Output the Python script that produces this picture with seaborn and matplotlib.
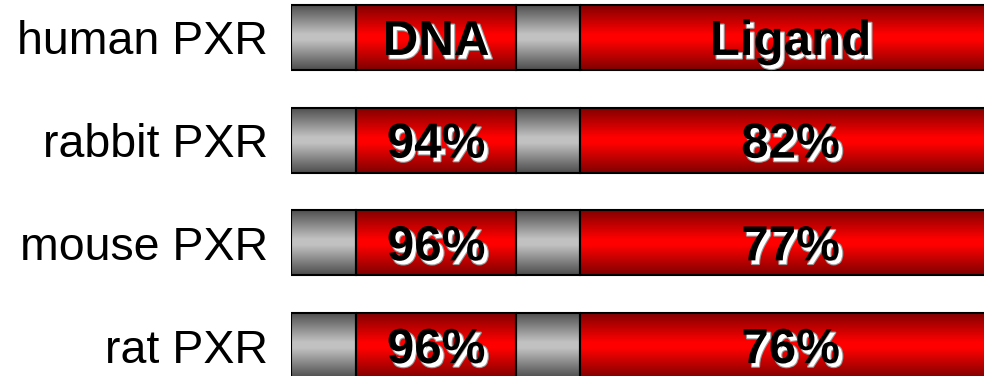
import numpy as np
import pandas as pd
import seaborn as sns
import matplotlib.pyplot as plt
import matplotlib.patheffects as pe

# species rows (top to bottom)
species = ['human PXR', 'rabbit PXR', 'mouse PXR', 'rat PXR']

# domain layout along the protein (schematic units)
domain_names = ['N-term', 'DNA', 'hinge', 'Ligand']
domain_starts = [0, 65, 225, 289]
domain_widths = [65, 160, 64, 421]
domain_kind = ['gray', 'red', 'gray', 'red']

# % identity to human PXR
dna_identity = [None, 94, 96, 96]
ligand_identity = [None, 82, 77, 76]

sns.set_style('white')
plt.rcParams['font.family'] = ['Liberation Sans', 'DejaVu Sans']

fig = plt.figure(figsize=(9.84, 3.76), dpi=100)
ax = fig.add_axes([291 / 984, 0, 1 - 291 / 984, 1])

bar_h = 0.633
for start, width, kind in zip(domain_starts, domain_widths, domain_kind):
    df = pd.DataFrame({'species': species, 'width': [width] * len(species)})
    sns.barplot(data=df, x='width', y='species', left=start, orient='h',
                color='red' if kind == 'red' else 'gray', width=bar_h,
                edgecolor='black', linewidth=1.5, ax=ax)

# vertical gradient fill (dark edges, bright middle)
t = np.clip(np.abs(np.linspace(-1, 1, 128)) * 1.1 - 0.1, 0, 1)[:, None]
grads = {
    'red': np.array([1.0, 0.0, 0.0]) * (1 - t)[..., None] + np.array([0.5, 0.0, 0.0]) * t[..., None],
    'gray': np.array([0.76, 0.76, 0.76]) * (1 - t)[..., None] + np.array([0.3, 0.3, 0.3]) * t[..., None],
}
n = len(species)
for k, p in enumerate(ax.patches):
    kind = domain_kind[k // n]
    x0, y0, w, h = p.get_x(), p.get_y(), p.get_width(), p.get_height()
    im = ax.imshow(grads[kind], extent=(x0, x0 + w, y0 + h, y0), aspect='auto',
                   interpolation='bilinear', zorder=1)
    im.set_clip_path(p)
    p.set_facecolor('none')
    p.set_zorder(2)

shadow = [pe.Stroke(offset=(2.6, -2.6), linewidth=1.6, foreground='#9a9a9a'),
          pe.SimplePatchShadow(offset=(2.6, -2.6), shadow_rgbFace='white', alpha=1.0),
          pe.Normal()]

dna_c = domain_starts[1] + domain_widths[1] / 2
lig_c = domain_starts[3] + domain_widths[3] / 2
for i in range(n):
    if i == 0:
        a, b = 'DNA', 'Ligand'
    else:
        a, b = f'{dna_identity[i]}%', f'{ligand_identity[i]}%'
    for xc, s in [(dna_c, a), (lig_c, b)]:
        ax.text(xc, i + 0.17, s, ha='center', va='baseline', fontsize=35.5,
                fontweight='bold', color='black', path_effects=shadow, zorder=3)

ax.set_xlim(0, 693)
ax.set_ylim(3.296, -0.365)
ax.set_xlabel('')
ax.set_ylabel('')
ax.set_xticks([])
ax.tick_params(axis='y', length=0, pad=16.6, labelsize=33.5, labelcolor='black')
sns.despine(ax=ax, left=True, bottom=True)

fig.savefig('out.png', dpi=100)
